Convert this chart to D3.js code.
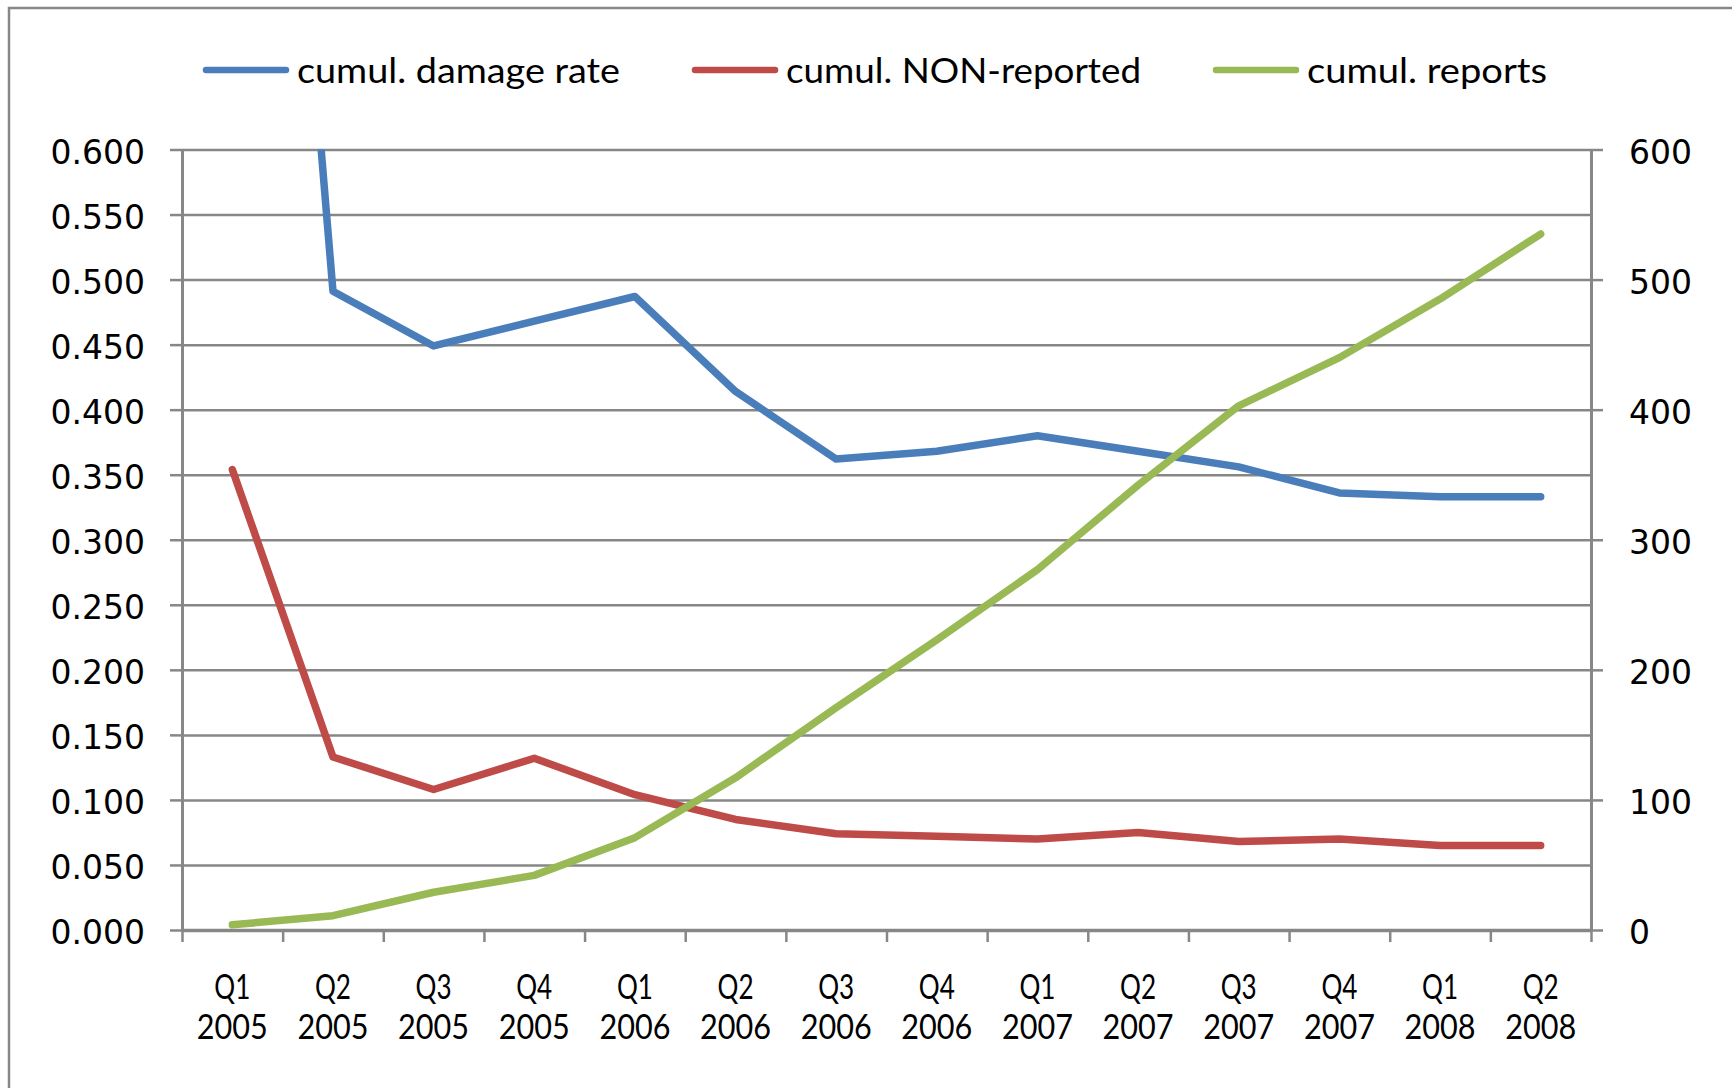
<!DOCTYPE html>
<html>
<head>
<meta charset="utf-8">
<script src="https://cdn.jsdelivr.net/npm/d3@7"></script>
<style>
  body { margin: 0; background: #fff; }
  svg { display: block; }
</style>
</head>
<body>
<script>
// quarters on the x axis
var categories = ["Q1 2005", "Q2 2005", "Q3 2005", "Q4 2005",
    "Q1 2006", "Q2 2006", "Q3 2006", "Q4 2006",
    "Q1 2007", "Q2 2007", "Q3 2007", "Q4 2007",
    "Q1 2008", "Q2 2008"];

// left axis series
var damageRate = [1.42, 0.491, 0.449, 0.468, 0.487, 0.414, 0.362, 0.368, 0.380, 0.368, 0.356, 0.336, 0.333, 0.333];
var nonReported = [0.354, 0.133, 0.108, 0.132, 0.104, 0.085, 0.074, 0.072, 0.070, 0.075, 0.068, 0.070, 0.065, 0.065];
// right axis series
var reports = [4, 11, 29, 42, 71, 117, 171, 223, 277, 342, 403, 440, 485, 535];

var leftTicks = [0, 0.05, 0.1, 0.15, 0.2, 0.25, 0.3, 0.35, 0.4, 0.45, 0.5, 0.55, 0.6];
var rightTicks = [0, 100, 200, 300, 400, 500, 600];

var seriesNames = ["cumul. damage rate", "cumul. NON-reported", "cumul. reports"];
var seriesColors = ["#4a7ebb", "#be4b48", "#98b954"];

var width = 1732, height = 1088,
    plotLeft = 182, plotRight = 1591, plotTop = 149.5, plotBottom = 930,
    grey = "#878787",
    labelFont = "Lato, 'Open Sans', sans-serif",
    numFont = "'DejaVu Sans', Verdana, sans-serif";

var svg = d3.select("body").append("svg")
    .attr("width", width)
    .attr("height", height);

// outer chart border (runs off the page on the right and bottom)
svg.append("rect")
    .attr("x", 9).attr("y", 8)
    .attr("width", width + 20).attr("height", height + 20)
    .attr("fill", "none")
    .attr("stroke", grey)
    .attr("stroke-width", 2.5);

var x = d3.scaleBand().domain(categories).range([plotLeft, plotRight]);
var xEdge = d3.scaleLinear().domain([0, categories.length]).range([plotLeft, plotRight]);
var yL = d3.scaleLinear().domain([0, 0.6]).range([plotBottom, plotTop]);
var yR = d3.scaleLinear().domain([0, 600]).range([plotBottom, plotTop]);

// horizontal gridlines
svg.append("g")
    .attr("transform", "translate(" + plotLeft + ",0)")
    .call(d3.axisLeft(yL).tickValues(leftTicks.slice(1)).tickSize(-(plotRight - plotLeft)).tickFormat(""))
    .call(g => g.select(".domain").remove())
    .selectAll("line")
    .attr("stroke", grey)
    .attr("stroke-width", 2.5);

// left axis
var gL = svg.append("g")
    .attr("transform", "translate(" + plotLeft + ",0)")
    .call(d3.axisLeft(yL).tickValues(leftTicks).tickFormat(d3.format(".3f"))
        .tickSizeInner(12).tickSizeOuter(0).tickPadding(25));

// right axis
var gR = svg.append("g")
    .attr("transform", "translate(" + plotRight + ",0)")
    .call(d3.axisRight(yR).tickValues(rightTicks)
        .tickSizeInner(12).tickSizeOuter(0).tickPadding(26));

// bottom axis: ticks between the categories
var gX = svg.append("g")
    .attr("transform", "translate(0," + plotBottom + ")")
    .call(d3.axisBottom(xEdge).ticks(categories.length).tickFormat("")
        .tickSizeInner(12).tickSizeOuter(0));

[gL, gR, gX].forEach(function (g) {
    g.select(".domain").attr("stroke", grey).attr("stroke-width", 3);
    g.selectAll(".tick line").attr("stroke", grey).attr("stroke-width", 2.5);
    g.selectAll(".tick text")
        .attr("fill", "#000")
        .attr("dy", "0.41em")
        .style("font-family", numFont)
        .style("font-size", "33px");
});
gX.select(".domain").attr("stroke-width", 3.5);

// category labels, two lines each
var xl = svg.append("g").selectAll("text")
    .data(categories)
    .enter().append("text")
    .attr("text-anchor", "middle")
    .style("font-family", labelFont)
    .style("font-size", "34px")
    .attr("fill", "#000");

xl.append("tspan")
    .attr("x", d => x(d) + x.bandwidth() / 2)
    .attr("y", 999)
    .attr("textLength", 36)
    .attr("lengthAdjust", "spacingAndGlyphs")
    .text(d => d.split(" ")[0]);

xl.append("tspan")
    .attr("x", d => x(d) + x.bandwidth() / 2)
    .attr("y", 1039)
    .attr("textLength", 71)
    .attr("lengthAdjust", "spacingAndGlyphs")
    .text(d => d.split(" ")[1]);

// lines, clipped to the plot area
svg.append("clipPath")
    .attr("id", "plot-clip")
    .append("rect")
    .attr("x", plotLeft - 20).attr("y", plotTop)
    .attr("width", plotRight - plotLeft + 40).attr("height", plotBottom - plotTop + 20);

var cx = (d, i) => x(categories[i]) + x.bandwidth() / 2;
var lineL = d3.line().x(cx).y(d => yL(d));
var lineR = d3.line().x(cx).y(d => yR(d));

var lines = svg.append("g").attr("clip-path", "url(#plot-clip)");

lines.append("path").datum(nonReported).attr("d", lineL).attr("stroke", seriesColors[1]);
lines.append("path").datum(damageRate).attr("d", lineL).attr("stroke", seriesColors[0]);
lines.append("path").datum(reports).attr("d", lineR).attr("stroke", seriesColors[2]);

lines.selectAll("path")
    .attr("fill", "none")
    .attr("stroke-width", 7.5)
    .attr("stroke-linejoin", "round")
    .attr("stroke-linecap", "round");

// legend
var legendWidths = [323, 355, 240];
var lx = 206;
seriesNames.forEach(function (name, i) {
    var g = svg.append("g").attr("transform", "translate(" + lx + ",70)");
    g.append("line")
        .attr("x1", 0).attr("x2", 80)
        .attr("stroke", seriesColors[i])
        .attr("stroke-width", 6.5)
        .attr("stroke-linecap", "round");
    g.append("text")
        .attr("x", 91).attr("y", 13)
        .attr("textLength", legendWidths[i])
        .attr("lengthAdjust", "spacingAndGlyphs")
        .style("font-family", labelFont)
        .style("font-size", "35px")
        .attr("fill", "#000")
        .text(name);
    lx += 91 + legendWidths[i] + 75;
});
</script>
</body>
</html>
